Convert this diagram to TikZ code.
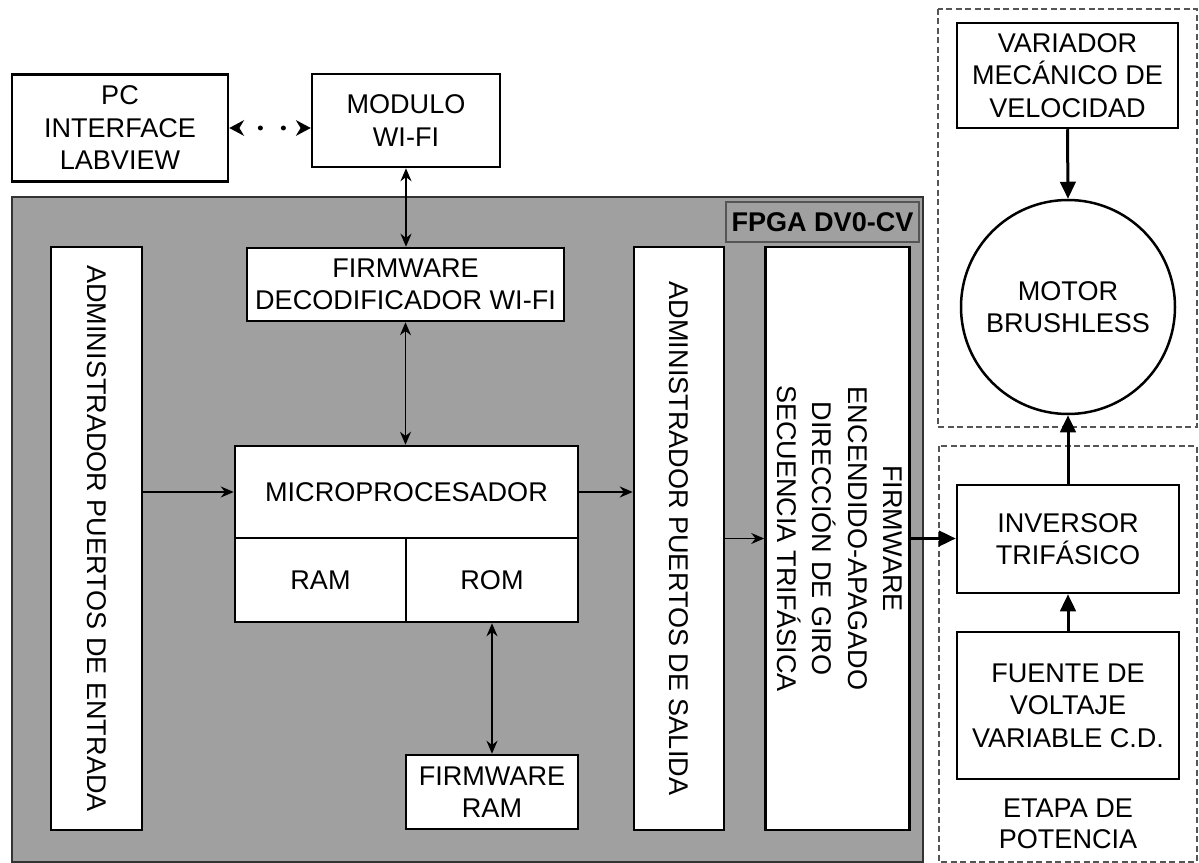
\documentclass[tikz,border=0pt]{standalone}
\usepackage{fontspec}
\setmainfont{Liberation Sans}
\usetikzlibrary{arrows.meta,positioning}
\definecolor{FpgaGray}{RGB}{160,160,160}
\definecolor{FrameGray}{RGB}{85,85,85}

\begin{document}
\begin{tikzpicture}[x=0.2mm,y=-0.2mm,
      box/.style={draw,line width=0.5mm,fill=white,align=center,inner sep=1pt,
                  font=\fontsize{15.4}{18.5}\selectfont},
      tallbox/.style={box,minimum height=116.6mm},
      arrow/.style={line width=0.3mm,-{Stealth[length=2.6mm,width=2.2mm]}},
      biarrow/.style={line width=0.3mm,
                  {Stealth[length=2.6mm,width=2.2mm]}-{Stealth[length=2.6mm,width=2.2mm]}},
      power/.style={line width=0.6mm,-{Triangle[length=3.4mm,width=3.1mm]}},
      dotlink/.style={line width=1mm,line cap=round,dash pattern=on 0pt off 4.6mm,dash phase=0.4mm,
                  {Stealth[length=3mm,width=3.2mm,line width=0pt]}-{Stealth[length=3mm,width=3.2mm,line width=0pt]}},
      stage/.style={draw=FrameGray,line width=0.25mm,dash pattern=on 1.2mm off 0.7mm}]
    \useasboundingbox (0,0) rectangle (1199,863);

    % FPGA area
    \node[draw=black!80,line width=0.4mm,fill=FpgaGray,inner sep=0pt,
          minimum width=182.2mm,minimum height=133mm] (fpga) at (467.5,529.5) {};
    \node[draw=FrameGray,fill=FpgaGray,line width=0.3mm,inner sep=0pt,
          minimum width=38.6mm,minimum height=8mm,
          font=\fontsize{15.4}{18}\selectfont\bfseries] (fpganame) at (822.5,222) {FPGA DV0-CV};

    \node[box,minimum width=43.2mm,minimum height=21.4mm] (pc) at (120,128) {PC\\INTERFACE\\LABVIEW};
    \node[box,minimum width=37.6mm,minimum height=18.6mm] (wifi) at (406,120.5) {MODULO\\WI-FI};
    \node[tallbox,minimum width=18.2mm] (entrada) at (96.5,538.5)
          {\rotatebox{-90}{ADMINISTRADOR PUERTOS DE ENTRADA}};
    \node[box,minimum width=63.4mm,minimum height=14.6mm] (decod) at (405.5,284.5)
          {FIRMWARE\\DECODIFICADOR WI-FI};
    \node[box,minimum width=68.6mm,minimum height=18.4mm] (micro) at (406.5,492) {MICROPROCESADOR};
    \node[box,minimum width=34.2mm,minimum height=16.8mm] (ram) at (320.5,580) {RAM};
    \node[box,minimum width=34.4mm,minimum height=16.8mm] (rom) at (492,580) {ROM};
    \node[box,minimum width=34.4mm,minimum height=14.8mm] (fwram) at (492,792) {FIRMWARE\\RAM};
    \node[tallbox,minimum width=18mm] (salida) at (679,538.5)
          {\rotatebox{-90}{ADMINISTRADOR PUERTOS DE SALIDA}};
    \node[tallbox,minimum width=27.8mm,font=\fontsize{15.4}{20}\selectfont] (enc) at (837.5,538.5)
          {\rotatebox{-90}{\begin{tabular}{@{}c@{}}FIRMWARE\\ENCENDIDO-APAGADO\\DIRECCIÓN DE GIRO\\SECUENCIA TRIFÁSICA\end{tabular}}};

    % motor and power stage
    \draw[stage] (938,9) rectangle (1197,427);
    \draw[stage] (939,446) rectangle (1197,862);
    \node[box,minimum width=44.2mm,minimum height=21mm] (variador) at (1067.5,75.5)
          {VARIADOR\\MECÁNICO DE\\VELOCIDAD};
    \node[box,circle,minimum size=42.8mm] (motor) at (1068,307) {MOTOR\\BRUSHLESS};
    \node[box,minimum width=44.4mm,minimum height=21.6mm] (inversor) at (1068,539) {INVERSOR\\TRIFÁSICO};
    \node[box,minimum width=44.4mm,minimum height=29.4mm] (fuente) at (1068,705.5)
          {FUENTE DE\\VOLTAJE\\VARIABLE C.D.};
    \node[align=center,font=\fontsize{15.4}{17.5}\selectfont] (etapa) at (1068,824) {ETAPA DE\\POTENCIA};

    \draw[dotlink] (pc.east) -- (pc.east -| wifi.west);
    \draw[biarrow,line width=0.4mm] (wifi.south) -- (wifi.south |- decod.north);
    \draw[biarrow] (decod.south) -- (decod.south |- micro.north);
    \draw[arrow] (entrada.east |- micro.west) -- (micro.west);
    \draw[arrow] (micro.east) -- (micro.east -| salida.west);
    \draw[arrow] (salida.east) -- (enc.west);
    \draw[biarrow] (rom.south) -- (fwram.north);
    \draw[power] (enc.east) -- (enc.east -| inversor.west);
    \draw[power] (fuente.north) -- (inversor.south);
    \draw[power] (inversor.north) -- (motor.south);
    \draw[power] (variador.south) -- (motor.north);
  \end{tikzpicture}
\end{document}
